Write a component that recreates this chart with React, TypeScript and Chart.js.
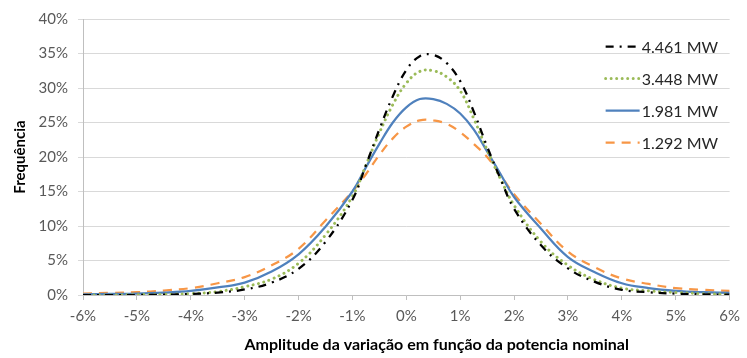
import { useEffect, useRef } from "react";
import { Chart, registerables } from "chart.js";

Chart.register(...registerables);

// Amplitude da variação (% da potência nominal)
const xValues = [
  -6, -5.5, -5, -4.5, -4, -3.5, -3, -2.5, -2, -1.5, -1, -0.75, -0.5, -0.25, 0,
  0.25, 0.5, 0.75, 1, 1.25, 1.5, 1.75, 2, 2.5, 3, 3.5, 4, 4.5, 5, 5.5, 6,
];

// Frequência (%)
const freq4461 = [
  0, 0, 0, 0.05, 0.15, 0.35, 0.8, 1.8, 3.8, 7.7, 13.8, 18.8, 24, 28.8, 32.6,
  34.6, 34.8, 33.6, 31, 26.6, 21.5, 16.8, 12.5, 7.2, 3.85, 1.9, 0.75, 0.4, 0.2, 0.1, 0.05,
];
const freq3448 = [
  0, 0, 0.05, 0.1, 0.2, 0.5, 1.2, 2.3, 4.6, 8.7, 14.3, 18.8, 23.5, 27.6, 30.7,
  32.4, 32.5, 31.6, 29.6, 25.6, 21, 16.8, 13, 7.7, 4.3, 2.2, 1.0, 0.6, 0.35, 0.2, 0.1,
];
const freq1981 = [
  0.1, 0.15, 0.2, 0.35, 0.6, 1.1, 1.8, 3.4, 5.9, 9.9, 15, 18.5, 21.9, 25, 27.2,
  28.4, 28.4, 27.7, 26.3, 24, 20.8, 17.5, 14.2, 9.6, 5.5, 3.3, 1.7, 1.0, 0.6, 0.4, 0.3,
];
const freq1292 = [
  0.2, 0.3, 0.4, 0.65, 1.0, 1.7, 2.6, 4.3, 6.7, 10.8, 15, 17.5, 20.3, 22.7, 24.4,
  25.3, 25.3, 24.8, 23.6, 21.9, 20, 17.4, 14.6, 10.3, 6.3, 4.0, 2.4, 1.6, 1.0, 0.75, 0.6,
];

const seriesLabels = ["4.461 MW", "3.448 MW", "1.981 MW", "1.292 MW"];
const xTicks = [-6, -5, -4, -3, -2, -1, 0, 1, 2, 3, 4, 5, 6];
const xTitle = "Amplitude da variação em função da potencia nominal";

const FONT = "Lato, 'Open Sans', sans-serif";

const insideLegend = {
  id: "insideLegend",
  afterDraw(chart: any) {
    const { ctx, chartArea } = chart;
    ctx.save();
    chart.data.datasets.forEach((ds: any, i: number) => {
      const y = chartArea.top + 27.5 + i * 32;
      const x0 = chartArea.right - 124;
      const x1 = chartArea.right - 90;
      ctx.beginPath();
      ctx.setLineDash(ds.borderDash || []);
      ctx.lineCap = ds.borderCapStyle || "butt";
      ctx.lineWidth = ds.borderWidth;
      ctx.strokeStyle = ds.borderColor;
      ctx.moveTo(x0, y);
      ctx.lineTo(x1, y);
      ctx.stroke();
      ctx.setLineDash([]);
      ctx.fillStyle = "#262626";
      ctx.font = `16px ${FONT}`;
      ctx.textBaseline = "middle";
      ctx.textAlign = "left";
      ctx.fillText(ds.label, x1 + 2, y + 1);
    });
    // x-axis title (offset to the right, as in the original)
    const cx = chartArea.left + (chartArea.right - chartArea.left) * 0.547;
    ctx.fillStyle = "#000";
    ctx.font = `bold 16px ${FONT}`;
    ctx.textAlign = "center";
    ctx.textBaseline = "middle";
    ctx.fillText(xTitle, cx, chart.height - 13);
    ctx.restore();
  },
};

export default function App() {
  const ref = useRef<HTMLCanvasElement>(null);

  useEffect(() => {
    const mk = (ys: number[]) => xValues.map((x, i) => ({ x, y: ys[i] }));
    const common = { pointRadius: 0, tension: 0.4 };
    const chart = new Chart(ref.current!, {
      type: "line",
      data: {
        datasets: [
          {
            label: seriesLabels[0],
            data: mk(freq4461),
            borderColor: "#000000",
            borderWidth: 2.25,
            borderDash: [8, 6, 2, 6],
            ...common,
          },
          {
            label: seriesLabels[1],
            data: mk(freq3448),
            borderColor: "#9BBB59",
            borderWidth: 3,
            borderDash: [0.01, 5.5],
            borderCapStyle: "round",
            ...common,
          },
          {
            label: seriesLabels[2],
            data: mk(freq1981),
            borderColor: "#4F81BD",
            borderWidth: 2.25,
            ...common,
          },
          {
            label: seriesLabels[3],
            data: mk(freq1292),
            borderColor: "#F79646",
            borderWidth: 2.25,
            borderDash: [9, 7],
            ...common,
          },
        ] as any,
      },
      options: {
        animation: false,
        responsive: false,
        layout: { padding: { top: 18, right: 10, left: 0, bottom: 0 } },
        plugins: {
          legend: { display: false },
          tooltip: { enabled: false },
        },
        scales: {
          x: {
            type: "linear",
            min: -6,
            max: 6,
            afterFit: (s: any) => {
              s.height = 63;
            },
            afterBuildTicks: (s: any) => {
              s.ticks = xTicks.map((v) => ({ value: v }));
            },
            ticks: {
              callback: (v: any) => `${v}%`,
              color: "#595959",
              font: { family: FONT, size: 15 },
              padding: 7,
              maxRotation: 0,
            },
            grid: {
              drawOnChartArea: false,
              drawTicks: true,
              tickLength: 5,
              color: "#BFBFBF",
            },
            border: { display: true, color: "#BFBFBF" },
          },
          y: {
            min: 0,
            max: 40,
            afterFit: (s: any) => {
              s.width = 83;
            },
            ticks: {
              stepSize: 5,
              callback: (v: any) => `${v}%`,
              color: "#595959",
              font: { family: FONT, size: 15 },
              padding: 10,
            },
            grid: {
              color: "#D9D9D9",
              tickLength: 5,
            },
            border: { display: true, color: "#BFBFBF" },
            title: {
              display: true,
              text: "Frequência",
              color: "#000",
              font: { family: FONT, size: 15, weight: "bold" },
              padding: { top: 11, bottom: 0 },
            },
          },
        },
      },
      plugins: [insideLegend],
    });
    return () => chart.destroy();
  }, []);

  return (
    <div style={{ position: "fixed", left: 0, top: 0, width: 747, height: 358, background: "#fff" }}>
      <canvas ref={ref} width={747} height={358} />
    </div>
  );
}
